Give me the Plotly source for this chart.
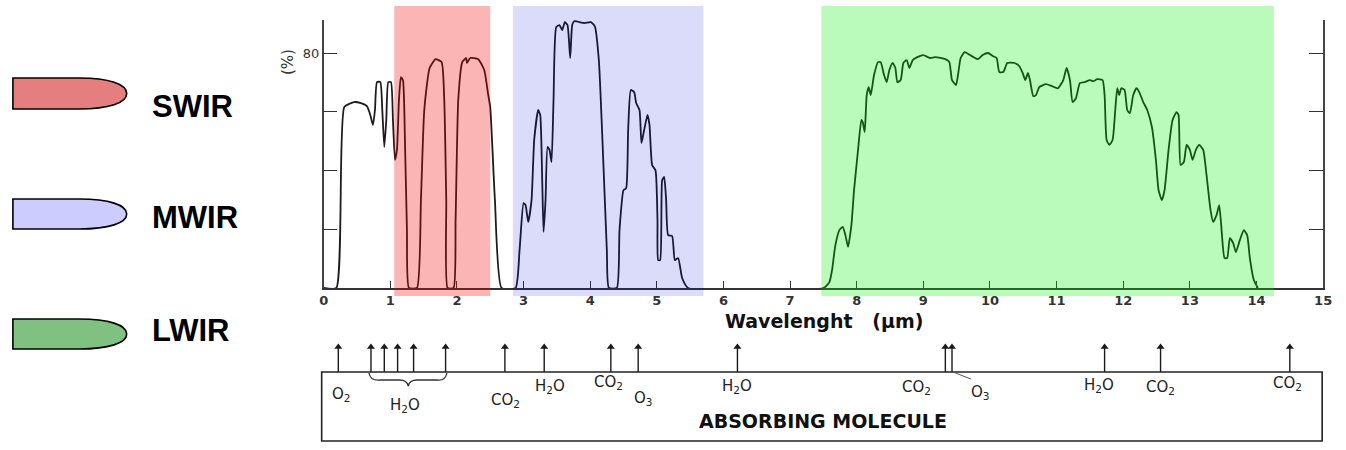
import plotly.graph_objects as go

W, H = 1346, 450

# Atmospheric transmittance (%) against wavelength (um)
wavelength = [
    0.00, 0.19, 0.31, 0.46, 0.56, 0.65, 0.70, 0.74, 0.77, 0.80, 0.85, 0.88, 0.91, 0.94, 0.97,
    1.01, 1.04, 1.07, 1.10, 1.13, 1.16, 1.19, 1.22, 1.25, 1.28, 1.40, 1.46, 1.51, 1.59, 1.68,
    1.77, 1.81, 1.84, 1.86, 1.95, 1.98, 2.02, 2.08, 2.14, 2.15, 2.20, 2.32, 2.41, 2.47, 2.50,
    2.57, 2.67, 2.88, 2.94, 3.00, 3.03, 3.07, 3.12, 3.16, 3.22, 3.25, 3.28, 3.30, 3.33, 3.36,
    3.39, 3.42, 3.45, 3.49, 3.54, 3.58, 3.62, 3.66, 3.70, 3.73, 3.76, 3.91, 4.01, 4.07, 4.13,
    4.19, 4.25, 4.28, 4.40, 4.44, 4.50, 4.54, 4.57, 4.61, 4.66, 4.69, 4.74, 4.77, 4.81, 4.86,
    4.89, 4.93, 4.98, 5.01, 5.02, 5.05, 5.08, 5.11, 5.14, 5.17, 5.23, 5.27, 5.32, 5.38, 5.47,
    7.50, 7.59, 7.63, 7.68, 7.74, 7.79, 7.83, 7.87, 7.92, 7.96, 8.02, 8.07, 8.09, 8.12, 8.15,
    8.18, 8.21, 8.26, 8.32, 8.36, 8.41, 8.45, 8.49, 8.54, 8.58, 8.61, 8.66, 8.70, 8.75, 8.79,
    8.84, 8.91, 9.00, 9.10, 9.18, 9.33, 9.39, 9.43, 9.49, 9.52, 9.56, 9.62, 9.70, 9.82, 9.89,
    9.97, 10.04, 10.10, 10.14, 10.20, 10.26, 10.37, 10.44, 10.49, 10.53, 10.57, 10.60, 10.65,
    10.69, 10.74, 10.84, 10.93, 11.02, 11.10, 11.15, 11.20, 11.24, 11.29, 11.35, 11.42, 11.50,
    11.55, 11.61, 11.69, 11.72, 11.75, 11.79, 11.84, 11.88, 11.91, 11.94, 11.97, 12.02, 12.06,
    12.10, 12.15, 12.20, 12.24, 12.30, 12.36, 12.43, 12.49, 12.53, 12.58, 12.62, 12.68, 12.74,
    12.80, 12.83, 12.86, 12.91, 12.95, 13.00, 13.04, 13.09, 13.14, 13.20, 13.25, 13.31, 13.35,
    13.40, 13.44, 13.47, 13.52, 13.56, 13.60, 13.65, 13.69, 13.75, 13.81, 13.86, 13.90, 13.96,
    14.02,
]
transmittance = [
    0.0, 0.0, 61.6, 63.3, 62.9, 61.9, 58.9, 55.5, 60.6, 70.1, 70.1, 60.6, 48.0, 57.2, 70.1,
    70.1, 57.2, 43.6, 47.0, 64.0, 71.8, 70.8, 50.4, 19.7, 0.0, 0.0, 30.0, 60.6, 74.9, 77.9,
    76.9, 64.0, 30.0, 0.0, 0.0, 23.0, 64.0, 76.9, 78.3, 76.6, 78.3, 77.9, 74.2, 65.7, 61.6,
    30.0, 0.0, 0.0, 12.9, 28.9, 28.2, 22.5, 29.9, 50.4, 60.6, 58.9, 36.7, 19.1, 29.9, 48.0,
    47.0, 42.9, 64.0, 88.8, 89.5, 87.8, 90.5, 89.5, 78.3, 89.5, 90.8, 90.2, 90.5, 89.1, 77.6,
    47.0, 12.9, 0.0, 0.0, 19.7, 33.3, 34.0, 53.8, 67.4, 66.7, 63.0, 60.6, 49.3, 53.8, 58.9,
    55.5, 41.8, 40.1, 23.1, 9.5, 9.5, 36.7, 37.8, 29.9, 18.0, 17.7, 9.5, 10.2, 3.4, 0.0,
    0.0, 2.0, 6.1, 14.6, 19.7, 20.8, 18.0, 14.0, 21.4, 33.3, 47.0, 57.2, 56.5, 53.1, 65.7,
    68.4, 65.7, 72.5, 76.9, 76.9, 72.5, 70.1, 74.2, 76.6, 74.9, 70.1, 70.8, 76.6, 77.6, 74.9,
    77.6, 78.6, 79.3, 78.3, 78.6, 77.9, 76.9, 70.8, 69.1, 72.5, 78.3, 80.3, 79.3, 77.9, 79.3,
    80.0, 79.0, 78.3, 73.5, 73.5, 76.6, 76.6, 75.5, 73.2, 70.8, 73.2, 70.8, 65.3,
    65.7, 68.4, 69.4, 68.7, 68.0, 70.8, 74.9, 70.8, 63.3, 64.6, 69.8, 70.1, 70.8,
    70.4, 71.1, 70.8, 65.7, 50.4, 48.7, 50.4, 60.6, 68.0, 65.7, 68.0, 67.4, 60.6,
    59.5, 65.7, 68.0, 66.7, 63.3, 60.6, 54.8, 43.6, 33.3, 29.9, 33.3, 47.0, 57.2,
    59.9, 58.9, 41.9, 42.9, 48.7, 47.0, 43.6, 47.0, 48.7, 47.0, 38.4, 26.5, 22.5,
    24.8, 28.2, 21.4, 10.2, 10.2, 17.0, 15.3, 12.2, 16.3, 19.7, 18.0, 10.2, 2.7,
    0.0,
]

# Infrared bands highlighted over the spectrum
band_names = ["SWIR", "MWIR", "LWIR"]
band_start = [1.06, 2.84, 7.47]
band_end = [2.50, 5.70, 14.26]
band_overlay = ["rgba(245,0,0,0.29)", "rgba(0,0,220,0.14)", "rgba(0,235,0,0.27)"]
band_swatch = ["#E57F7F", "#CCCCFF", "#80C080"]

# Absorption features (um) and the molecules responsible
absorber_wavelength = [0.22, 0.71, 0.91, 1.11, 1.35, 1.83, 2.72, 3.31, 4.31, 4.72,
                       6.21, 9.33, 9.43, 11.72, 12.56, 14.50]
molecule_labels = ["O<sub>2</sub>", "H<sub>2</sub>O", "CO<sub>2</sub>", "H<sub>2</sub>O",
                   "CO<sub>2</sub>", "O<sub>3</sub>", "H<sub>2</sub>O", "CO<sub>2</sub>",
                   "O<sub>3</sub>", "H<sub>2</sub>O", "CO<sub>2</sub>", "CO<sub>2</sub>"]
molecule_label_wavelength = [0.27, 1.22, 2.73, 3.39, 4.28, 4.80, 6.21, 8.90, 9.86,
                             11.63, 12.56, 14.47]
molecule_label_row = [394, 405, 400, 386, 382, 398, 386, 387, 392, 385, 387, 383]

x_tick_values = list(range(0, 16))
y_tick_values = [20, 40, 60, 80]
y_tick_text = ["", "", "", "80"]

X0, X1 = 322, 1332      # spectrum plot area, px
Y0, Y1 = 20, 288
ARROW_TOP, ARROW_BASE = 343, 372


def px(x):
    return x / W


def py(y):
    return 1 - y / H


fig = go.Figure()
fig.add_trace(go.Scatter(
    x=wavelength, y=transmittance, mode="lines",
    line=dict(color="#1c1c1c", width=1.8, shape="spline", smoothing=0.5),
    showlegend=False, hoverinfo="x+y",
))

# absorption arrows: stems standing on the molecule box, heads on top
stem_x, stem_y = [], []
for wl in absorber_wavelength:
    stem_x += [wl, wl, None]
    stem_y += [0, 0.9, None]
fig.add_trace(go.Scatter(
    x=stem_x, y=stem_y, yaxis="y2", mode="lines",
    line=dict(color="#1a1a1a", width=1.4), showlegend=False, hoverinfo="skip",
    cliponaxis=False,
))
fig.add_trace(go.Scatter(
    x=absorber_wavelength, y=[0.86] * len(absorber_wavelength), yaxis="y2",
    mode="markers", marker=dict(symbol="triangle-up", size=7, color="#1a1a1a"),
    showlegend=False, hoverinfo="x", cliponaxis=False,
))

shapes = []
# coloured band overlays
for s, e, c in zip(band_start, band_end, band_overlay):
    shapes.append(dict(type="rect", xref="x", yref="paper", x0=s, x1=e,
                       y0=py(296), y1=py(6), fillcolor=c, line=dict(width=0),
                       layer="above"))

# legend swatches (bullet shaped)
swatch_rows = [(78, 109), (199, 229), (319, 349)]
for (t, b), c in zip(swatch_rows, band_swatch):
    m = (t + b) / 2
    pts = [("M", 8, t), ("L", 75, t), ("C", 105, t), ("", 123, t + 6), ("", 123, m),
           ("C", 123, b - 6), ("", 105, b), ("", 75, b), ("L", 8, b)]
    path = " ".join(f"{cmd} {px(a):.5f},{py(bb):.5f}" if cmd else f"{px(a):.5f},{py(bb):.5f}"
                    for cmd, a, bb in pts) + " Z"
    shapes.append(dict(type="path", xref="paper", yref="paper", path=path,
                       fillcolor=c, line=dict(color="black", width=1.6)))

# absorbing-molecule box
shapes.append(dict(type="rect", xref="paper", yref="paper", x0=px(320), x1=px(1331),
                   y0=py(441), y1=py(ARROW_BASE), line=dict(color="#222", width=1.6)))
# brace grouping the near-IR water bands
bx = lambda v: f"{v:.3f}"
brace = (f"M {bx(0.68)},{py(373):.5f} Q {bx(0.70)},{py(381):.5f} {bx(0.85)},{py(380):.5f} "
         f"L {bx(1.14)},{py(380):.5f} Q {bx(1.25)},{py(380):.5f} {bx(1.27)},{py(386):.5f} "
         f"Q {bx(1.29)},{py(380):.5f} {bx(1.40)},{py(380):.5f} L {bx(1.70)},{py(380):.5f} "
         f"Q {bx(1.83)},{py(381):.5f} {bx(1.85)},{py(373):.5f}")
shapes.append(dict(type="path", xref="x", yref="paper", path=brace,
                   line=dict(color="#333", width=1.3)))
# leader from the ozone arrows to their label
shapes.append(dict(type="line", xref="paper", yref="paper", x0=px(958), y0=py(372),
                   x1=px(976), y1=py(379), line=dict(color="#555", width=1)))

annotations = []
for lab, wl, row in zip(molecule_labels, molecule_label_wavelength, molecule_label_row):
    annotations.append(dict(x=wl, y=py(row), xref="x", yref="paper", text=lab,
                            showarrow=False, xanchor="center", yanchor="middle",
                            font=dict(family="DejaVu Sans", size=15, color="#222")))

annotations.append(dict(x=px(827), y=py(421), xref="paper", yref="paper",
                        xanchor="center", yanchor="middle",
                        text="<b>ABSORBING MOLECULE</b>", showarrow=False,
                        font=dict(family="DejaVu Sans", size=19, color="#111")))
annotations.append(dict(x=px(828), y=py(321), xref="paper", yref="paper",
                        xanchor="center", yanchor="middle",
                        text="<b>Wavelenght\u00a0\u00a0\u00a0(\u00b5m)</b>", showarrow=False,
                        font=dict(family="DejaVu Sans", size=19, color="#111")))
annotations.append(dict(x=px(286), y=py(62), xref="paper", yref="paper", text="(%)",
                        xanchor="center", yanchor="middle",
                        textangle=-90, showarrow=False,
                        font=dict(family="DejaVu Sans", size=15, color="#333")))

legend_text_rows = [107, 217, 330]
for name, row in zip(band_names, legend_text_rows):
    annotations.append(dict(x=px(147), y=py(row), xref="paper", yref="paper",
                            text=f"<b>{name}</b>", showarrow=False, xanchor="left",
                            yanchor="middle",
                            font=dict(family="Liberation Sans, Arial, sans-serif",
                                      size=31, color="black")))

fig.update_layout(
    width=W, height=H, margin=dict(l=0, r=0, t=0, b=0),
    paper_bgcolor="white", plot_bgcolor="white",
    shapes=shapes, annotations=annotations, showlegend=False,
    xaxis=dict(domain=[px(X0), px(X1)], range=[0, 15], tickvals=x_tick_values,
               ticks="inside", ticklen=7, tickwidth=1.2, tickcolor="#333",
               showline=True, linecolor="#333", linewidth=1.5,
               showgrid=False, zeroline=False,
               tickfont=dict(family="DejaVu Sans", size=13, color="#333", weight="bold")),
    yaxis=dict(domain=[py(Y1), py(Y0)], range=[0, (Y1 - Y0) / ((Y1 - 53) / 80)],
               tickvals=y_tick_values, ticktext=y_tick_text,
               ticks="inside", ticklen=14, tickwidth=1.2, tickcolor="#333",
               showline=True, linecolor="#444", linewidth=1.6, mirror="ticks",
               showgrid=False, zeroline=False,
               tickfont=dict(family="DejaVu Sans", size=13, color="#333")),
    yaxis2=dict(domain=[py(ARROW_BASE), py(ARROW_TOP)], range=[0, 1], anchor="x",
                visible=False, fixedrange=True),
)

fig.write_html("out.html")
